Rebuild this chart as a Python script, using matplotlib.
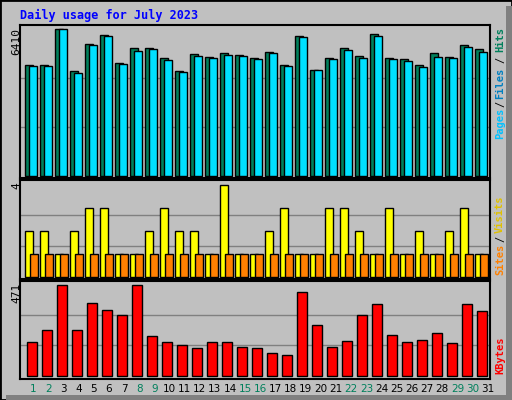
import numpy as np
import matplotlib.pyplot as plt
from matplotlib.patches import Rectangle

days = list(range(1, 32))
weekend_days = [1, 2, 8, 9, 15, 16, 22, 23, 29, 30]

hits = [4870, 4870, 6410, 4609, 5756, 6148, 4927, 5581, 5581, 5145, 4578, 5320, 5189, 5363, 5276, 5145,
        5437, 4870, 6104, 4652, 5176, 5581, 5232, 6192, 5176, 5132, 4840, 5363, 5219, 5712, 5538]
files = [4827, 4827, 6410, 4522, 5712, 6104, 4884, 5450, 5538, 5058, 4535, 5232, 5145, 5276, 5232, 5102,
         5394, 4827, 6061, 4652, 5132, 5524, 5176, 6104, 5132, 5045, 4783, 5219, 5176, 5655, 5437]
visits = [2, 2, 1, 2, 3, 3, 1, 1, 2, 3, 2, 2, 1, 4, 1, 1, 2, 3, 1, 1, 3, 3, 2, 1, 3, 1, 2, 1, 2, 3, 1]
sites = [1] * 31
kbytes = [172, 234, 471, 239, 378, 342, 316, 471, 203, 172, 158, 141, 172, 172, 151, 141,
          120, 105, 435, 260, 148, 182, 316, 373, 208, 172, 187, 223, 167, 373, 337]

W, H = 512, 400
fig = plt.figure(figsize=(W / 100, H / 100), dpi=100)
fig.patch.set_facecolor('#c0c0c0')

# outer frame with shadow
fig.add_artist(Rectangle((0, 0), 1, 1, transform=fig.transFigure, fill=False, edgecolor='black', lw=2))
fig.add_artist(Rectangle((506 / W, 0), 6 / W, 1 - 6 / H, transform=fig.transFigure, color='#808080', lw=0))
fig.add_artist(Rectangle((6 / W, 0), 1 - 6 / W, 5 / H, transform=fig.transFigure, color='#808080', lw=0))

def panel(y0, y1):
    ax = fig.add_axes([20 / W, 1 - y1 / H, 470 / W, (y1 - y0) / H])
    ax.set_facecolor('#c0c0c0')
    ax.set_xlim(0.13, 31.47)
    for s in ax.spines.values():
        s.set_color('black')
        s.set_linewidth(1.5)
    ax.set_xticks([])
    ax.set_yticks([])
    return ax

def side_label(text, yc, color, bold=True, x=500):
    fig.text(x / W, 1 - yc / H, text, rotation=90, ha='center', va='center', color=color,
             fontsize=7.5, family='DejaVu Sans Mono', fontweight='bold' if bold else 'normal')

x = np.array(days)
u = 1 / 15.16  # one pixel in x units

# top panel: hits / files
ax1 = panel(25, 178)
top = 6410
ax1.set_ylim(-top * 2 / 147, top * 1.03)
for f in (1 / 3, 2 / 3):
    ax1.axhline(top * f, color='#808080', lw=1, zorder=0)
ax1.bar(x - 8 * u, hits, width=8 * u, align='edge', color='#00805c', edgecolor='black', lw=1)
ax1.bar(x - 4 * u, files, width=8 * u, align='edge', color='#00e0ff', edgecolor='black', lw=1)
fig.text(16 / W, 1 - 28 / H, '6410', rotation=90, ha='center', va='top', fontsize=8, family='DejaVu Sans Mono')
side_label('Hits', 40, '#00805c')
side_label('/', 60, 'black', False)
side_label('Files', 83, '#0080c0')
side_label('/', 104, 'black', False)
side_label('Pages', 123, '#00c0ff')

# middle panel: visits / sites
ax2 = panel(180, 279)
vmax = 4
ax2.set_ylim(-vmax * 2.3 / 92.4, vmax * 1.05)
for f in (1 / 3, 2 / 3):
    ax2.axhline(vmax * f, color='#808080', lw=1, zorder=0)
ax2.bar(x - 8 * u, visits, width=8 * u, align='edge', color='#ffff00', edgecolor='black', lw=1)
ax2.bar(x - 3.3 * u, sites, width=8 * u, align='edge', color='#ff8000', edgecolor='black', lw=1)
fig.text(16 / W, 1 - 182 / H, '4', rotation=90, ha='center', va='top', fontsize=8, family='DejaVu Sans Mono')
side_label('Visits', 214, '#e0c000')
side_label('/', 239, 'black', False)
side_label('Sites', 259, '#ff8000')

# bottom panel: kbytes
ax3 = panel(281, 379)
kmax = 471
ax3.set_ylim(-kmax * 3.3 / 91.4, kmax * 1.04)
for f in (1 / 3, 2 / 3):
    ax3.axhline(kmax * f, color='#808080', lw=1, zorder=0)
ax3.bar(x - 6.3 * u, kbytes, width=10 * u, align='edge', color='#ff0000', edgecolor='black', lw=1)
fig.text(16 / W, 1 - 283 / H, '471', rotation=90, ha='center', va='top', fontsize=8, family='DejaVu Sans Mono')
side_label('KBytes', 355, '#ff0000')

# day labels
for d in days:
    col = '#00805c' if d in weekend_days else 'black'
    fig.text((33 + 15.16 * (d - 1)) / W, 1 - 389 / H, str(d), ha='center', va='center',
             color=col, fontsize=7.5, family='DejaVu Sans')

fig.text(20 / W, 1 - 15 / H, 'Daily usage for July 2023', ha='left', va='center',
         color='#0000ff', fontsize=8.5, family='DejaVu Sans Mono', fontweight='bold')

fig.savefig('out.png', dpi=100, facecolor=fig.get_facecolor())
